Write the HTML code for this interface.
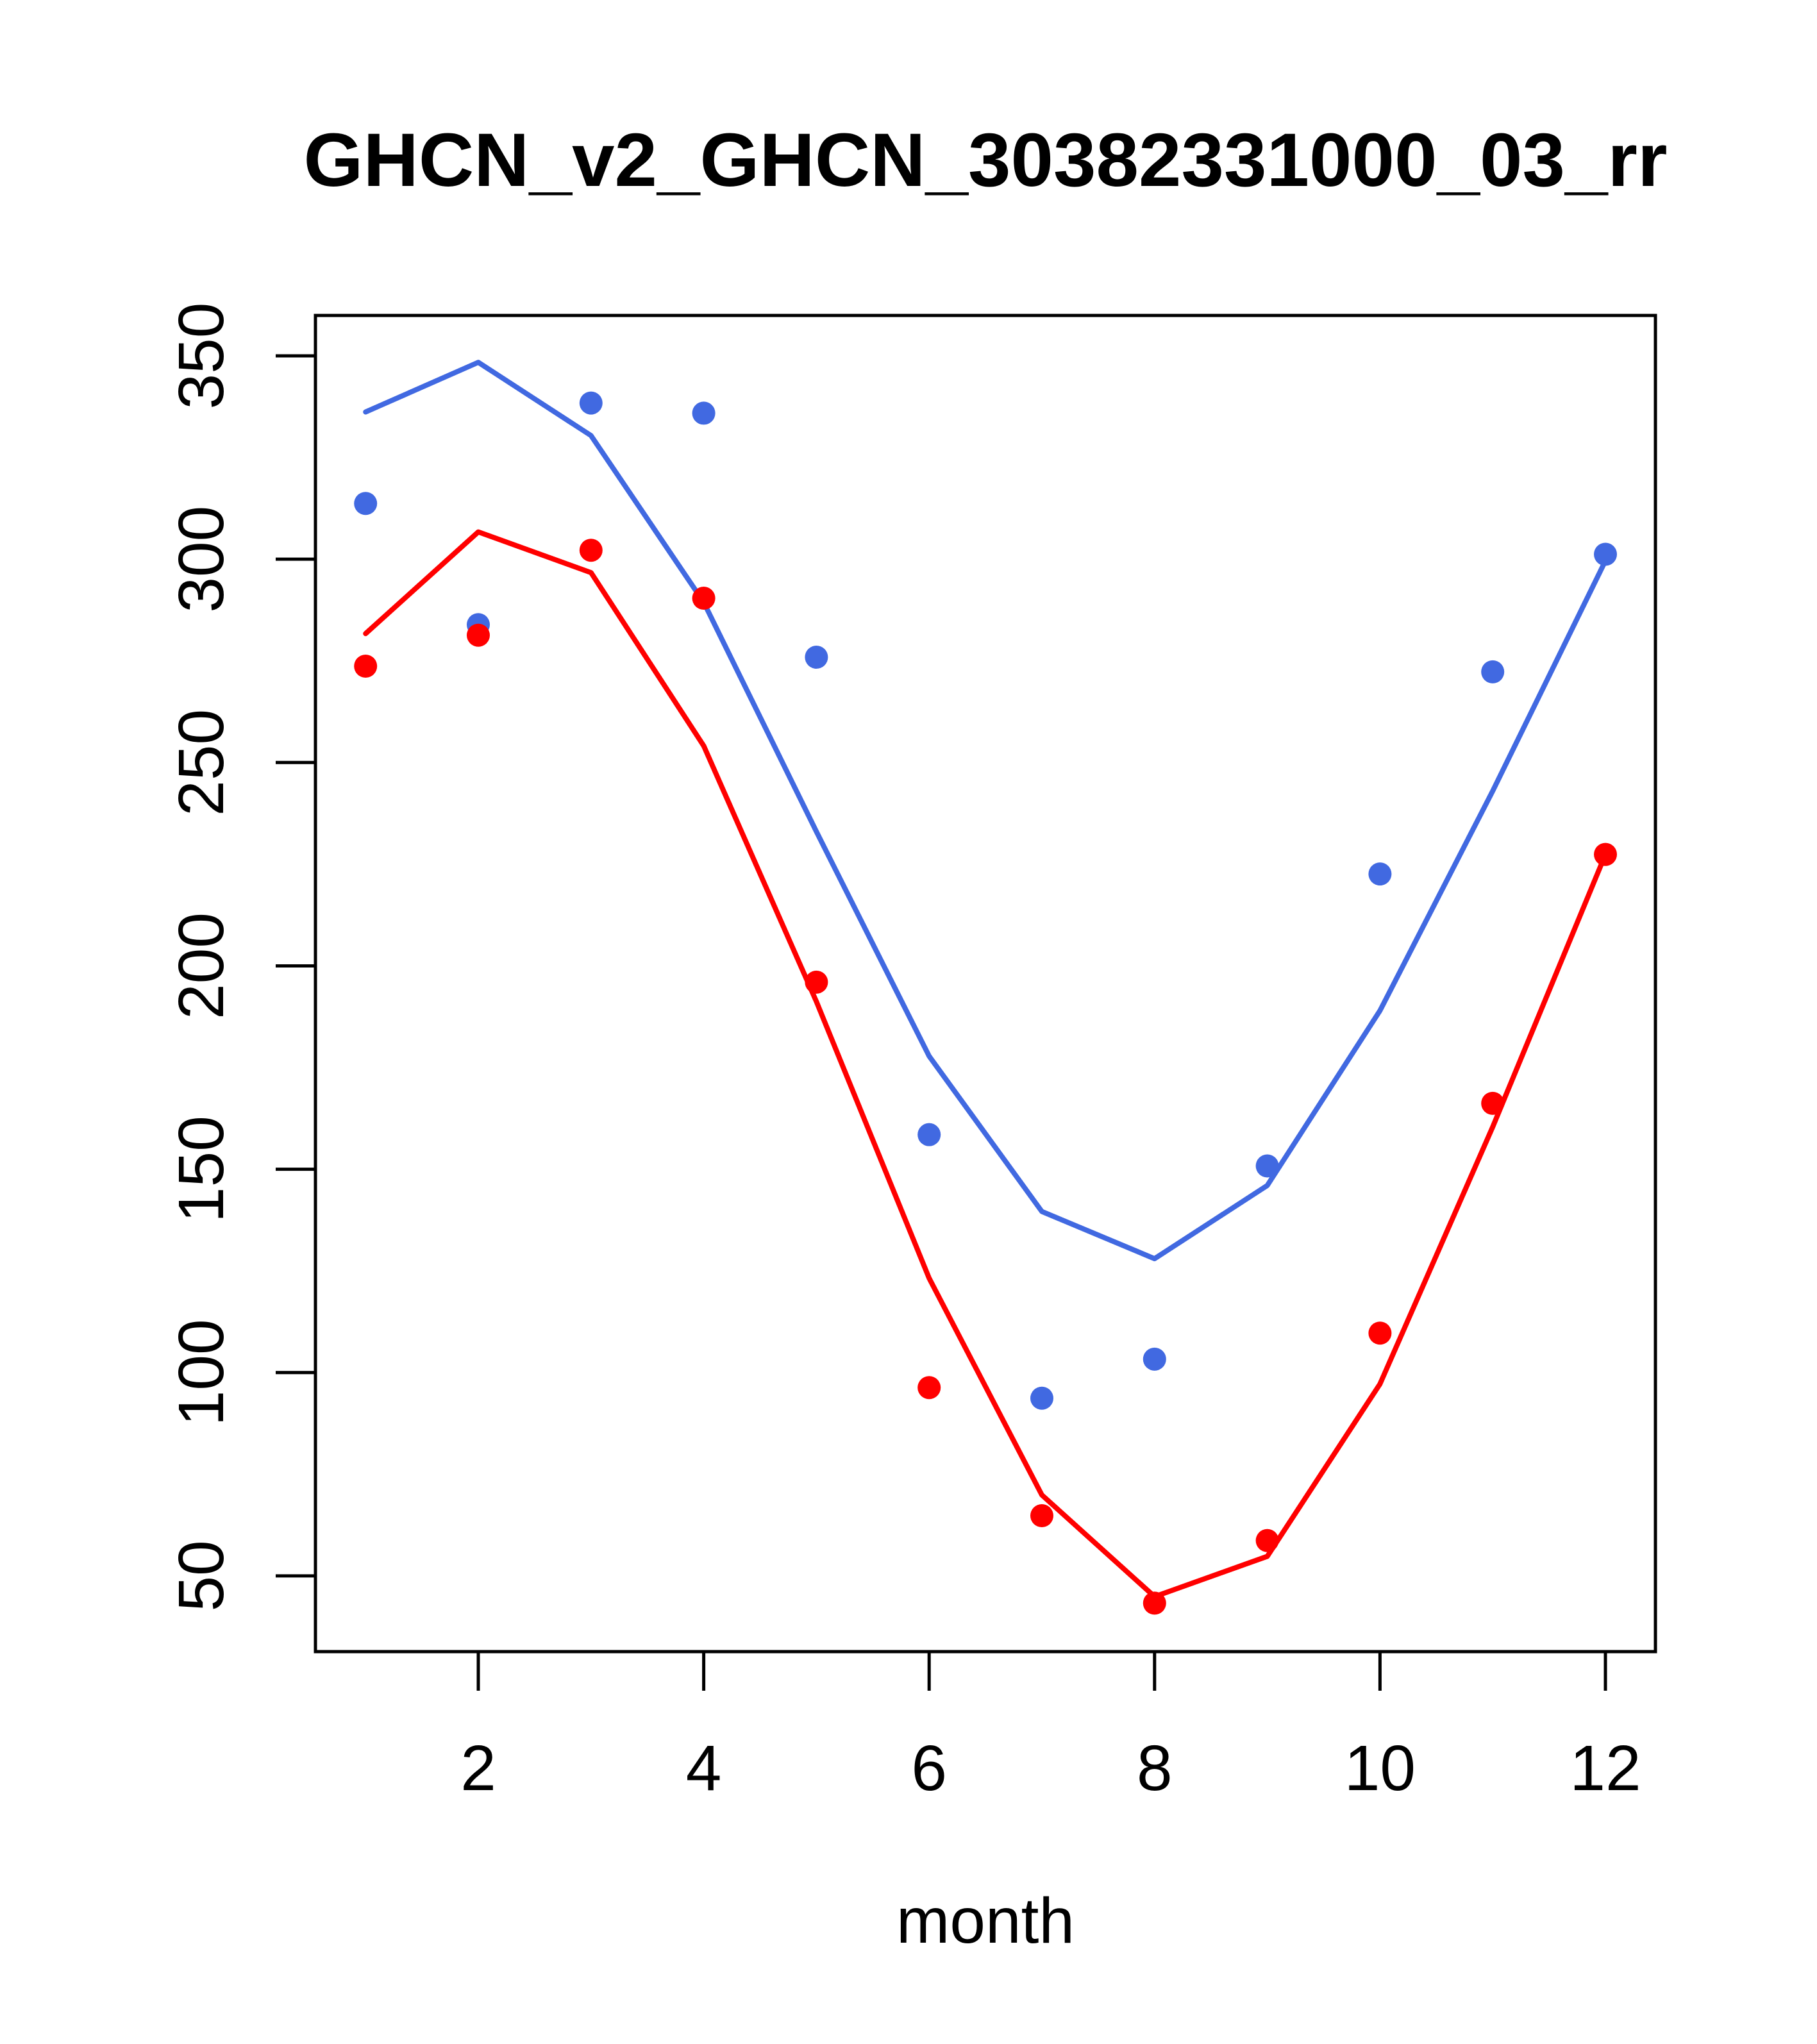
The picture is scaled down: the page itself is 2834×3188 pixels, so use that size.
<!DOCTYPE html>
<html><head><meta charset="utf-8"><style>body{margin:0;background:#fff}svg{display:block}</style></head>
<body>
<svg id="chart" width="2834" height="3188" xmlns="http://www.w3.org/2000/svg" font-family="Liberation Sans, sans-serif">
<rect width="2834" height="3188" fill="#fff"/>
<text x="1537" y="290" font-size="118" font-weight="bold" text-anchor="middle" textLength="2127" lengthAdjust="spacingAndGlyphs">GHCN_v2_GHCN_30382331000_03_rr</text>
<rect x="492" y="492" width="2090" height="2084" fill="none" stroke="#000" stroke-width="5"/>
<text x="1537" y="3030" font-size="100" text-anchor="middle">month</text>
<g id="axes"></g>
<g id="series"></g>
</svg>
<script>
const months=[1,2,3,4,5,6,7,8,9,10,11,12];
const blueLine=[336.2,348.4,330.4,289.4,233,177.8,139.6,128,146,189,243,299.6];
const bluePoints=[313.7,283.9,338.4,335.9,275.9,158.5,93.7,103.3,150.8,222.6,272.3,301.2];
const redLine=[281.7,306.7,296.7,254.1,191.2,123.2,69.9,44.9,54.8,97.2,160.4,227.4];
const redPoints=[273.7,281.3,302.2,290.4,196,96.3,64.8,43.3,58.7,109.7,166.2,227.4];
const xTicks=[2,4,6,8,10,12];
const yTicks=[50,100,150,200,250,300,350];
const NS='http://www.w3.org/2000/svg';
const X=v=>746+(v-2)*175.8;
const Y=v=>555+(350-v)*6.343;
const axes=document.getElementById('axes'),series=document.getElementById('series');
function mk(tag,attrs,parent){const e=document.createElementNS(NS,tag);for(const k in attrs)e.setAttribute(k,attrs[k]);parent.appendChild(e);return e;}
xTicks.forEach(t=>{
  const l=mk('line',{x1:X(t),x2:X(t),y1:2576,y2:2637,stroke:'#000','stroke-width':5},axes);
  
  
  const tx=mk('text',{x:X(t),y:2792,'font-size':100,'text-anchor':'middle'},axes);
  tx.textContent=t;
  
  
});
yTicks.forEach(t=>{
  const l=mk('line',{x1:430,x2:492,y1:Y(t),y2:Y(t),stroke:'#000','stroke-width':5},axes);
  
  
  const tx=mk('text',{x:348,y:Y(t),'font-size':100,'text-anchor':'middle',transform:`rotate(-90 348 ${Y(t)})`},axes);
  tx.textContent=t;
  
  
});
function line(vals,color,name){
  const p=mk('polyline',{points:months.map((m,i)=>X(m)+','+Y(vals[i])).join(' '),fill:'none',stroke:color,'stroke-width':8,'stroke-linejoin':'round','stroke-linecap':'round'},series);
  
  
}
function pts(vals,color,name){
  months.forEach((m,i)=>{
    const c=mk('circle',{cx:X(m),cy:Y(vals[i]),r:18,fill:color},series);
    
    
  });
}
line(blueLine,'#4169E1','blue-line');
line(redLine,'#FF0000','red-line');
pts(bluePoints,'#4169E1','blue-point');
pts(redPoints,'#FF0000','red-point');
</script>
</body></html>
